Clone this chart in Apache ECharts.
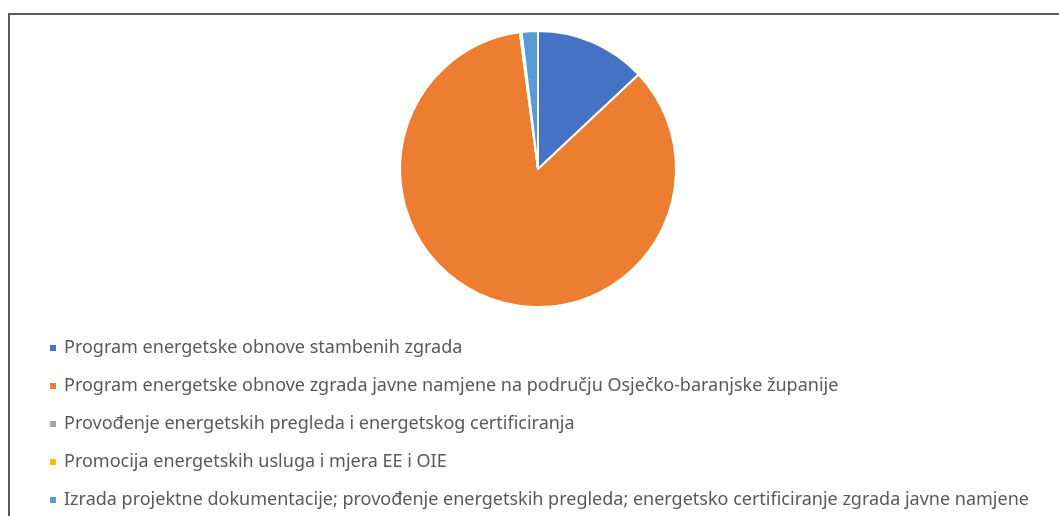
<!DOCTYPE html>
<html>
<head>
<meta charset="utf-8">
<script src="https://cdn.jsdelivr.net/npm/echarts@6/dist/echarts.min.js"></script>
<style>
html,body{margin:0;padding:0;background:#fff;}
#c{width:1059px;height:516px;}
</style>
</head>
<body>
<div id="c"></div>
<script>
const categories = [
  'Program energetske obnove stambenih zgrada',
  'Program energetske obnove zgrada javne namjene na području Osječko-baranjske županije',
  'Provođenje energetskih pregleda i energetskog certificiranja',
  'Promocija energetskih usluga i mjera EE i OIE',
  'Izrada projektne dokumentacije; provođenje energetskih pregleda; energetsko certificiranje zgrada javne namjene'
];
const values = [13.0, 84.9, 0.2, 0.0, 1.9];
const colors = ['#4472C4', '#ED7D31', '#A5A5A5', '#FFC000', '#5B9BD5'];

const chart = echarts.init(document.getElementById('c'), null, {renderer: 'canvas'});
chart.setOption({
  animation: false,
  color: colors,
  graphic: [{
    type: 'rect',
    shape: {x: 9, y: 14, width: 1100, height: 600},
    style: {fill: 'none', stroke: '#595959', lineWidth: 2},
    silent: true
  }],
  legend: {
    orient: 'vertical',
    left: 43,
    top: 334,
    icon: 'rect',
    itemWidth: 8,
    itemHeight: 8,
    itemGap: 20,
    textStyle: {fontFamily: 'Noto Sans', fontSize: 18, color: '#595959', padding: [0, 0, 0, 2]},
    data: categories
  },
  series: [{
    type: 'pie',
    center: [538, 169],
    radius: [0, 138],
    startAngle: 90,
    clockwise: true,
    label: {show: false},
    labelLine: {show: false},
    itemStyle: {borderColor: '#fff', borderWidth: 2},
    data: categories.map((n, i) => ({name: n, value: values[i]}))
  }]
});
</script>
</body>
</html>
